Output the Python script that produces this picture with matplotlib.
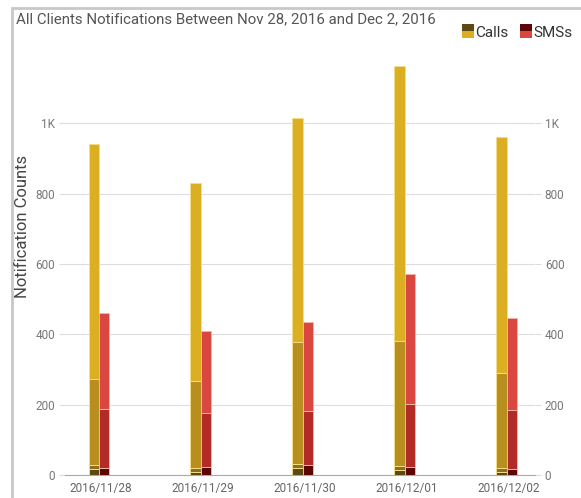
import numpy as np
import matplotlib.pyplot as plt
from matplotlib.patches import Rectangle

plt.rcParams['font.family'] = ['Roboto', 'DejaVu Sans']

dates = ['2016/11/28', '2016/11/29', '2016/11/30', '2016/12/01', '2016/12/02']

# calls, stacked in 4 parts (bottom -> top)
calls_1 = [18, 10, 19, 14, 10]
calls_2 = [12, 10, 12, 12, 11]
calls_3 = [242, 247, 348, 355, 268]
calls_4 = [668, 563, 635, 781, 671]

# sms, stacked in 3 parts
sms_1 = [21, 23, 30, 22, 16]
sms_2 = [166, 153, 152, 180, 169]
sms_3 = [273, 233, 253, 369, 261]

calls_colors = ['#5e4913', '#8f6f1b', '#b88f1f', '#dcae22']
sms_colors = ['#5c0606', '#b22b26', '#da4640']

fig = plt.figure(figsize=(5.81, 4.98), dpi=100)
ax = fig.add_axes([0.112, 0.046, 0.809, 0.848])

x = np.arange(len(dates))
w = 0.1

bottom = np.zeros(len(dates))
for vals, c in zip([calls_1, calls_2, calls_3, calls_4], calls_colors):
    ax.bar(x - w / 2, vals, w, bottom=bottom, color=c, edgecolor='#f3dc8a', linewidth=0.7, zorder=3)
    bottom += np.array(vals)

bottom = np.zeros(len(dates))
for vals, c in zip([sms_1, sms_2, sms_3], sms_colors):
    ax.bar(x + w / 2, vals, w, bottom=bottom, color=c, edgecolor='#f5b3a8', linewidth=0.7, zorder=3)
    bottom += np.array(vals)

ax.set_xlim(-0.33, 4.28)
ax.set_ylim(0, 1200)
ax.set_yticks([0, 200, 400, 600, 800, 1000])
ax.set_yticklabels(['0', '200', '400', '600', '800', '1K'])
ax.set_xticks(x + 0.02)
ax.set_xticklabels(dates)
ax.grid(axis='y', color='#dddddd', linewidth=0.8, zorder=0)
for s in ['top', 'left', 'right']:
    ax.spines[s].set_visible(False)
ax.spines['bottom'].set_color('#aaaaaa')
ax.tick_params(axis='y', length=4, color='#dddddd', labelcolor='#777777', labelsize=8.5,
               left=True, right=True, labelleft=True, labelright=True, pad=3)
ax.tick_params(axis='x', length=0, labelcolor='#666666', labelsize=8.5, pad=5)

fig.text(0.038, 0.545, 'Notification Counts', fontsize=12, color='#444444',
         rotation=90, ha='center', va='center')

fig.text(0.027, 0.962, 'All Clients Notifications Between Nov 28, 2016 and Dec 2, 2016',
         fontsize=10.8, color='#555555', va='center')

# legend
fig.patches.append(Rectangle((0.795, 0.924), 0.02, 0.028, transform=fig.transFigure,
                             facecolor=calls_colors[3], edgecolor='none'))
fig.patches.append(Rectangle((0.795, 0.938), 0.02, 0.014, transform=fig.transFigure,
                             facecolor=calls_colors[0], edgecolor='none'))
fig.text(0.818, 0.933, 'Calls', fontsize=11, color='#333333', va='center')
fig.patches.append(Rectangle((0.895, 0.924), 0.02, 0.028, transform=fig.transFigure,
                             facecolor=sms_colors[2], edgecolor='none'))
fig.patches.append(Rectangle((0.895, 0.938), 0.02, 0.014, transform=fig.transFigure,
                             facecolor=sms_colors[0], edgecolor='none'))
fig.text(0.918, 0.933, 'SMSs', fontsize=11, color='#333333', va='center')

# outer frame
fig.patches.append(Rectangle((0.021, -0.05), 1.1, 1.034, transform=fig.transFigure,
                             facecolor='none', edgecolor='#c8c8c8', linewidth=2))

fig.savefig('out.png', dpi=100)
